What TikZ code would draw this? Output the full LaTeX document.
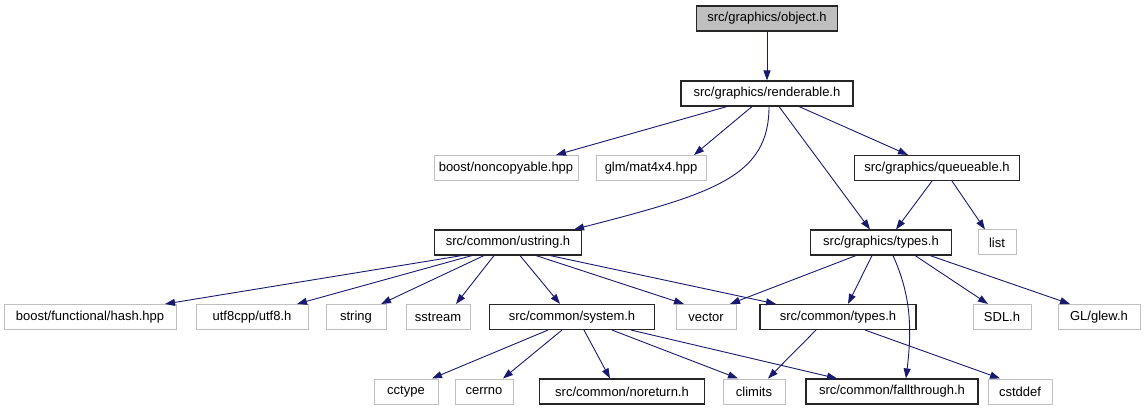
\documentclass[tikz,border=0pt]{standalone}
\usepackage{fontspec}
\setmainfont{Liberation Sans}
\usetikzlibrary{arrows.meta}
\definecolor{edgeblue}{HTML}{191970}
\definecolor{extgrey}{HTML}{BFBFBF}

\begin{document}
\begin{tikzpicture}[x=1pt,y=-1pt]

  \tikzstyle{every node}=[font=\fontsize{13}{15}\selectfont, inner sep=0pt, minimum height=25pt]
  \tikzstyle{hdr}=[draw=black!85, line width=1.1pt]
  \tikzstyle{ext}=[draw=extgrey, line width=1pt]
  \tikzstyle{inc}=[draw=edgeblue, line width=0.9pt, -{Triangle[length=10pt,width=7pt]}]

  \useasboundingbox (0,0) rectangle (1145,411);

  %%% project headers
  \node (object) at (767,18.5) [hdr, fill=extgrey, minimum width=141pt] {src/graphics/object.h};
  \node (renderable) at (767,93.5) [hdr, minimum width=172pt] {src/graphics/renderable.h};
  \node (queueable) at (937,168) [hdr, minimum width=165pt] {src/graphics/queueable.h};
  \node (ustring) at (508,242.5) [hdr, minimum width=147pt] {src/common/ustring.h};
  \node (gtypes) at (881,242.5) [hdr, minimum width=141pt] {src/graphics/types.h};
  \node (system) at (572,317) [hdr, minimum width=165pt] {src/common/system.h};
  \node (ctypes) at (838,317) [hdr, minimum width=156pt] {src/common/types.h};
  \node (noreturn) at (622,391.5) [hdr, minimum width=165pt] {src/common/noreturn.h};
  \node (fallthrough) at (892,391.5) [hdr, minimum width=172pt] {src/common/fallthrough.h};

  %%% system and library headers
  \node (noncopyable) at (506,168) [ext, minimum width=144pt] {boost/noncopyable.hpp};
  \node (mat) at (651,168) [ext, minimum width=110pt] {glm/mat4x4.hpp};
  \node (list) at (997,242.5) [ext, minimum width=38pt] {list};
  \node (hash) at (90,317) [ext, minimum width=172pt] {boost/functional/hash.hpp};
  \node (utf) at (252,317) [ext, minimum width=112pt] {utf8cpp/utf8.h};
  \node (string) at (356,317) [ext, minimum width=60pt] {string};
  \node (sstream) at (438,317) [ext, minimum width=64pt] {sstream};
  \node (vector) at (706,317) [ext, minimum width=60pt] {vector};
  \node (sdl) at (1002,317) [ext, minimum width=58pt] {SDL.h};
  \node (glew) at (1099,317) [ext, minimum width=82pt] {GL/glew.h};
  \node (cctype) at (406,391.5) [ext, minimum width=64pt] {cctype};
  \node (cerrno) at (484,391.5) [ext, minimum width=58pt] {cerrno};
  \node (climits) at (754,391.5) [ext, minimum width=62pt] {climits};
  \node (cstddef) at (1020,391.5) [ext, minimum width=64pt] {cstddef};

  %%% includes
  \draw [inc] (object.south) -- (renderable.north);

  \draw [inc] ([xshift=-40pt]renderable.south) -- ([xshift=50pt]noncopyable.north);
  \draw [inc] ([xshift=-15pt]renderable.south) -- ([xshift=43pt]mat.north);
  \draw [inc] ([xshift=2pt]renderable.south) .. controls +(0,70) and +(140,-36) .. ([xshift=-8pt]ustring.north east);
  \draw [inc] ([xshift=12pt]renderable.south) -- ([xshift=-11pt]gtypes.north);
  \draw [inc] ([xshift=32pt]renderable.south) -- ([xshift=-29pt]queueable.north);

  \draw [inc] ([xshift=-5pt]queueable.south) -- ([xshift=15pt]gtypes.north);
  \draw [inc] ([xshift=15pt]queueable.south) -- ([xshift=-12pt]list.north);

  \draw [inc] ([xshift=-46pt]ustring.south) -- ([xshift=75pt]hash.north);
  \draw [inc] ([xshift=-36pt]ustring.south) -- ([xshift=45pt]utf.north);
  \draw [inc] ([xshift=-24pt]ustring.south) -- ([xshift=25pt]string.north);
  \draw [inc] ([xshift=-14pt]ustring.south) -- ([xshift=18pt]sstream.north);
  \draw [inc] ([xshift=12pt]ustring.south) -- ([xshift=-12pt]system.north);
  \draw [inc] ([xshift=28pt]ustring.south) -- ([xshift=-22pt]vector.north);
  \draw [inc] ([xshift=42pt]ustring.south) -- ([xshift=-62pt]ctypes.north);

  \draw [inc] ([xshift=-25pt]gtypes.south) -- ([xshift=24pt]vector.north);
  \draw [inc] ([xshift=-9pt]gtypes.south) -- ([xshift=10pt]ctypes.north);
  \draw [inc] ([xshift=12pt]gtypes.south) .. controls +(18,40) and +(6,-50) .. ([xshift=14pt]fallthrough.north);
  \draw [inc] ([xshift=34pt]gtypes.south) -- ([xshift=-14pt]sdl.north);
  \draw [inc] ([xshift=49pt]gtypes.south) -- ([xshift=-29pt]glew.north);

  \draw [inc] ([xshift=-24pt]system.south) -- ([xshift=26pt]cctype.north);
  \draw [inc] ([xshift=-10pt]system.south) -- ([xshift=19pt]cerrno.north);
  \draw [inc] ([xshift=12pt]system.south) -- ([xshift=-12pt]noreturn.north);
  \draw [inc] ([xshift=40pt]system.south) -- ([xshift=-16pt]climits.north);
  \draw [inc] ([xshift=59pt]system.south) -- ([xshift=-55pt]fallthrough.north);

  \draw [inc] ([xshift=-22pt]ctypes.south) -- ([xshift=14pt]climits.north);
  \draw [inc] ([xshift=27pt]ctypes.south) -- ([xshift=-20pt]cstddef.north);

\end{tikzpicture}
\end{document}
